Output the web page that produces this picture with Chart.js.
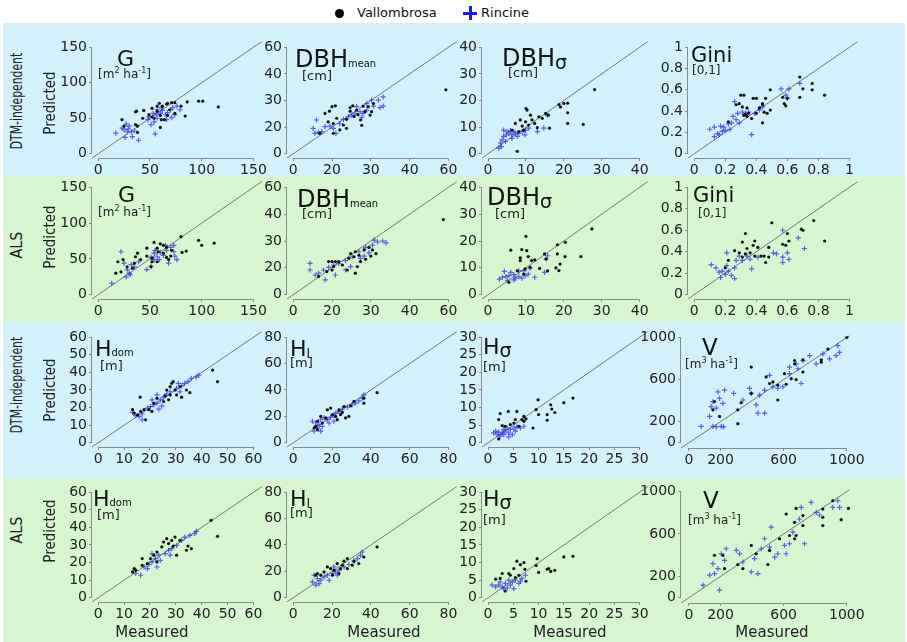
<!DOCTYPE html>
<html><head><meta charset="utf-8">
<script src="https://cdn.jsdelivr.net/npm/chart.js@4/dist/chart.umd.min.js"></script>
<style>
html,body{margin:0;padding:0;background:#fff;}
#root{position:relative;width:907px;height:642px;overflow:hidden;font-family:'DejaVu Sans',sans-serif;color:#111;}
.band{position:absolute;left:3px;width:902px;}
.blue{background:#d3f1fa}
.green{background:#d5f6cf}
canvas.pc{position:absolute;}
.t{position:absolute;white-space:nowrap;line-height:1;}
.rot{position:absolute;white-space:nowrap;line-height:1;}
.sm{font-family:'DejaVu Sans Condensed','DejaVu Sans',sans-serif;font-size:11px;}
.sl{font-size:13px;position:relative;top:2px;}
.sg{font-size:19px;position:relative;top:3px;}
.sp{font-size:8px;position:relative;top:-5px;}
.u{color:#222;}
</style></head><body><div id="root">
<div class="band blue" style="top:23px;height:153px"></div>
<div class="band green" style="top:176px;height:146px"></div>
<div class="band blue" style="top:322px;height:156px"></div>
<div class="band green" style="top:478px;height:164px"></div>
<div class="t" style="left:335px;top:9px;width:9px;height:9px;border-radius:50%;background:#000"></div>
<div class="t" style="left:357px;top:6px;font-size:13px;">Vallombrosa</div>
<div class="t" style="left:463px;top:11.5px;width:14px;height:3px;background:#1a1aff"></div>
<div class="t" style="left:468.5px;top:6px;width:3px;height:14px;background:#1a1aff"></div>
<div class="t" style="left:481px;top:6px;font-size:13px;">Rincine</div>
</div>
<script>
// ---------- tick values / labels ----------
const G_ticks = [0, 50, 100, 150];
const DBHmean_ticks = [0, 15, 30, 45, 60];
const DBHmean_tick_labels = ['0', '20', '30', '40', '60'];
const DBHsd_ticks = [0, 10, 20, 30, 40];
const Gini_ticks = [0, 0.2, 0.4, 0.6, 0.8, 1];
const Hdom_ticks = [0, 10, 20, 30, 40, 50, 60];
const Hl_ticks = [0, 20, 40, 60, 80];
const Hsd_ticks = [0, 5, 10, 15, 20, 25, 30];
const V_ticks = [0, 200, 600, 1000];

// ---------- data [measured, predicted] ----------
const G_dtm_vallombrosa = [[116,66],[97,74],[101,74],[84,53],[86,73],[71,72],[74,72],[80,67],[57,67],[62,67],[66,70],[67,71],[59,71],[52,64],[57,60],[60,54],[61,48],[60,37],[52,52],[54,50],[49,55],[44,61],[37,60],[36,59],[43,50],[38,39],[36,41],[38,30],[23,48],[25,39],[67,54],[74,57],[69,62],[64,48]];
const G_dtm_rincine = [[17,29],[23,36],[27,42],[30,39],[32,31],[35,32],[29,35],[33,24],[26,23],[39,19],[55,28],[28,31],[25,34],[49,52],[53,57],[56,55],[57,50],[60,57],[62,61],[65,55],[67,58],[70,62],[72,65],[76,67],[79,62],[74,55],[71,51],[66,48],[54,45],[51,41],[48,48],[57,62],[61,65]];
const G_als_vallombrosa = [[97,76],[100,69],[112,72],[80,81],[85,61],[81,59],[70,54],[71,62],[66,66],[63,69],[60,71],[57,65],[54,73],[58,60],[63,58],[66,52],[68,49],[57,46],[52,51],[47,54],[47,65],[52,46],[51,39],[41,49],[35,44],[33,37],[28,39],[24,49],[19,46],[38,58],[36,53],[17,30],[22,32]];
const G_als_rincine = [[13,16],[22,60],[25,44],[28,35],[30,30],[31,28],[27,25],[32,42],[35,39],[39,46],[47,35],[51,40],[54,58],[55,62],[57,53],[60,59],[63,55],[66,62],[70,66],[73,60],[74,54],[76,49],[68,44],[59,49],[54,49],[51,52],[73,69],[65,69]];

const DBHmean_dtm_vallombrosa = [[59,36],[22,26],[23,27],[22,24],[24.5,24.6],[25,22],[23.5,21],[26,19],[26.5,16],[27.7,23.7],[29,26.5],[30.3,23.7],[31,28.3],[29.7,21.8],[20.6,19.4],[19.4,16.2],[15.5,17],[16.8,20],[13.5,18],[10.3,11.5],[15.5,11.5],[18,13.4],[20.6,14.3],[27,26.8],[15,26.5],[16.3,27],[12.3,22.7],[14,24]];
const DBHmean_dtm_rincine = [[7.7,14.3],[8.4,11.5],[9.7,12],[11,12.5],[12.3,15.3],[14.2,15.6],[16.5,11.5],[15.5,14.3],[18,17],[19.4,19.4],[21.3,20.9],[22.6,21.8],[23.9,22.7],[25.8,23.7],[27,22.7],[28.4,24.6],[31,26.8],[32.9,30.2],[34.8,32],[30.3,30.2],[28.4,28.3],[26.5,20.5],[33.5,26],[34.8,26.8],[9,19],[24.5,26.5]];
const DBHmean_als_vallombrosa = [[58,42],[13.7,18.5],[15,18.5],[16.3,18.5],[17.6,18.5],[15.6,15.7],[19,16.6],[21.5,20.3],[22.2,23],[24,24],[23.5,21.2],[25.4,22],[26,18.5],[24.8,15.7],[24,12],[20.9,13.8],[27.4,25],[29.3,26.4],[30.6,25],[30,21.6],[28,19.8],[32,23],[15,13.8],[13,12.9],[9.8,10.2]];
const DBHmean_als_rincine = [[6.5,17.5],[6.5,13.8],[8.5,11],[9.8,12],[11.7,13.8],[13.7,15.3],[15.6,16.6],[17.6,17.5],[20.2,19],[22.8,21.2],[25.4,24],[27.4,21.6],[29.3,23.4],[30.6,27.7],[32.6,29.5],[34.6,30],[35.9,29],[31.3,30.5],[28,26.4],[22.2,15.7],[20.2,13.8],[12.4,8.3],[16.3,11],[26,20.3]];

const DBHsd_dtm_vallombrosa = [[28.1,24.1],[25.1,11],[21,19],[21,15.4],[21,11.4],[20,18.9],[19.1,17.6],[18.7,18.5],[15.9,14.5],[16.2,9.6],[15.2,15.2],[10,17],[10.3,16.4],[11.2,14.5],[9.9,12],[8.5,12.7],[9,10.4],[10.7,10.8],[12.3,11.4],[13,9.8],[7.2,11.4],[8.1,8.3],[6.3,8.9],[7.7,0.9],[9.4,8.9],[11.6,12.7],[13.4,13.9],[14.3,13.3]];
const DBHsd_dtm_rincine = [[3.3,4],[3.5,2.7],[3.7,5.2],[4.1,6.5],[4.8,7.1],[5.5,7.7],[6.3,7.1],[7.2,7.7],[4.1,8.9],[5,8.3],[5.9,8.7],[6.8,8.3],[8.1,7.7],[9,8.3],[9.9,8.9],[10.7,9.6],[9.7,7.1],[7.7,6.5],[6.3,5.8],[13,8.3],[14.7,9.6],[15.6,14.5],[2.8,2.1],[4.6,4.6]];
const DBHsd_als_vallombrosa = [[27.4,24.5],[20.4,19.5],[18.3,15.2],[20.3,14.2],[17.9,10],[18.7,9],[19,11.4],[24.5,14.2],[14.9,15.2],[15.3,13.3],[18.3,18.6],[10,21.7],[8.9,16.8],[10.2,16.4],[6,16.6],[8.5,13.7],[8.5,12.7],[10.6,14.2],[11.5,12.7],[12.3,13],[11.1,10.2],[9.8,9.6],[7.7,8.9],[9.4,7.7],[5.5,4.6],[13.6,9.8],[15.7,8.9]];
const DBHsd_als_rincine = [[3,5.8],[3.8,6.5],[4.7,6.7],[5.5,7.1],[6,8.3],[6.8,7.5],[7.2,6.2],[8.1,6.7],[8.9,6.2],[9.8,7.1],[10.6,7.7],[6.8,5.5],[5.1,5.2],[12.3,6.5],[14.9,8.3],[15.3,13.3],[15.7,14.5],[8.1,8.9],[9.4,8.9],[4.3,8.7],[11.1,9.9]];

const Gini_dtm_vallombrosa = [[0.84,0.55],[0.76,0.66],[0.76,0.60],[0.68,0.72],[0.68,0.53],[0.70,0.61],[0.57,0.53],[0.58,0.47],[0.59,0.45],[0.60,0.52],[0.49,0.60],[0.46,0.52],[0.44,0.47],[0.44,0.46],[0.45,0.39],[0.47,0.38],[0.49,0.41],[0.44,0.29],[0.38,0.52],[0.40,0.52],[0.34,0.43],[0.31,0.44],[0.30,0.55],[0.32,0.55],[0.27,0.46],[0.29,0.47],[0.32,0.36],[0.33,0.37],[0.34,0.35],[0.35,0.38],[0.37,0.33],[0.22,0.30],[0.40,0.38],[0.42,0.43]];
const Gini_dtm_rincine = [[0.10,0.23],[0.13,0.25],[0.17,0.26],[0.15,0.19],[0.13,0.16],[0.16,0.18],[0.18,0.21],[0.20,0.22],[0.23,0.23],[0.24,0.29],[0.25,0.35],[0.27,0.32],[0.29,0.29],[0.28,0.38],[0.26,0.49],[0.31,0.39],[0.33,0.38],[0.35,0.39],[0.37,0.18],[0.39,0.38],[0.42,0.41],[0.44,0.44],[0.56,0.61],[0.59,0.55],[0.61,0.61],[0.68,0.66],[0.60,0.52],[0.19,0.25],[0.22,0.28]];
const Gini_als_vallombrosa = [[0.84,0.50],[0.77,0.69],[0.69,0.61],[0.70,0.60],[0.50,0.67],[0.57,0.47],[0.59,0.46],[0.60,0.57],[0.61,0.50],[0.48,0.44],[0.45,0.36],[0.46,0.30],[0.39,0.50],[0.38,0.46],[0.41,0.44],[0.33,0.57],[0.31,0.49],[0.34,0.43],[0.36,0.39],[0.33,0.38],[0.29,0.39],[0.31,0.35],[0.39,0.36],[0.43,0.36],[0.22,0.32],[0.20,0.25],[0.26,0.41],[0.48,0.35]];
const Gini_als_rincine = [[0.11,0.28],[0.14,0.25],[0.16,0.21],[0.17,0.16],[0.18,0.22],[0.20,0.19],[0.21,0.27],[0.22,0.22],[0.24,0.18],[0.26,0.15],[0.26,0.25],[0.27,0.32],[0.21,0.39],[0.29,0.36],[0.31,0.32],[0.34,0.36],[0.36,0.33],[0.37,0.24],[0.41,0.35],[0.51,0.39],[0.53,0.38],[0.57,0.60],[0.57,0.30],[0.60,0.39],[0.67,0.53],[0.71,0.43],[0.57,0.35],[0.61,0.33]];

const Hdom_dtm_vallombrosa = [[44.2,41.3],[46.1,34.7],[34.1,30],[35.4,28.5],[31.6,31.9],[29,34.7],[28.4,33.8],[27.8,31.9],[26.5,30],[29.7,30],[30.3,27.2],[27.8,27.2],[25.9,26.6],[27.2,24.4],[32.2,25.9],[25.3,23.4],[22.7,25.3],[21.5,22.5],[19.6,18.8],[17.7,18.8],[16.4,17.8],[15.2,15.9],[16.2,25.9],[13.3,18.8],[18.3,13.1],[13.9,16.9],[20.8,17.8]];
const Hdom_dtm_rincine = [[13.3,17.3],[14.5,15.4],[15.8,15],[17,16.5],[19,19.7],[20.2,20.6],[21.5,21.6],[22.7,22.5],[24,24.4],[25.3,25.9],[26.5,27.8],[27.8,29],[30.3,31],[32.2,32.3],[33.4,33.8],[34.7,34.7],[36,36.6],[37.9,37.5],[38.9,38.4],[23.4,19.1],[24.6,21],[31,33.8],[17,13.1],[22.7,27.2],[20.8,24.4],[31.6,29]];
const Hdom_als_vallombrosa = [[43.6,44],[46.1,34.9],[36,27.9],[34.7,29.4],[34.1,27],[31.6,32.6],[29.7,34.5],[28.4,32.6],[27.2,30.8],[26.5,33.6],[25.3,31.7],[29,29.4],[30.3,24.2],[24.6,28.9],[22.7,26],[21.5,24.2],[20.2,22.3],[19,19.4],[17,18.5],[14.5,15.7],[13.9,16.6],[13.3,14.7],[22.7,20.4],[17,22.3]];
const Hdom_als_rincine = [[14.5,13.8],[16.4,12.8],[17.7,17.5],[19.6,18.9],[20.8,20.4],[22.1,22.3],[23.4,24.2],[24,21.3],[25.9,25.1],[27.2,27],[28.4,27.9],[30.3,29.8],[32.2,32.6],[33.4,34.5],[35.4,35.5],[37.3,36.4],[37.9,37.7],[22.7,17.5],[20.8,25.1],[19,16.6],[27.8,24.2]];

const Hl_dtm_vallombrosa = [[43.2,38],[36.4,30],[36.4,33.8],[31.3,31.3],[29.6,28],[26.2,27.5],[25.3,23],[24.4,21.3],[23.6,25],[21.9,20],[20.2,21.3],[19.3,26.3],[17.6,25],[16.8,18.8],[14.2,20],[12.5,16.3],[11.6,12.5],[10.8,11.3],[12.5,10],[27,18.8],[28.7,20],[22.7,17.5],[15,15]];
const Hl_dtm_rincine = [[9.9,16.3],[11.6,15],[13.3,13.8],[15,12.5],[14.2,17.5],[15.9,18.8],[17.6,17.5],[19.3,19.5],[21,20.5],[21.9,22.5],[23.6,23.8],[25.3,25.5],[27.9,27],[30.4,28.8],[32.1,30],[33.8,31.8],[35.6,33.8],[36.4,36.3],[12.5,11.3],[10.8,8.8],[18.5,15],[21,16.3],[14.2,8.8]];
const Hl_als_vallombrosa = [[43.2,38.5],[36.4,30.9],[33.8,25.9],[31.3,27.7],[27.9,29.7],[26.2,27.7],[25.3,24.7],[24.4,22.1],[22.7,25.9],[21,20.9],[19.3,22.1],[17.6,23.4],[15.9,19.6],[14.2,17.1],[12.5,18.4],[11.6,17.1],[27.9,22.1],[30.4,24.7],[23.6,18.4],[20.2,17.1]];
const Hl_als_rincine = [[9.9,12.1],[11.6,9.6],[12.5,14.6],[14.2,13.3],[15.9,15.8],[17.6,17.1],[20.2,18.4],[21.9,19.6],[23.6,20.9],[26.2,23.4],[28.7,25.2],[31.3,27.7],[33.1,29.7],[34.7,32.2],[35.6,34.7],[18.5,13.3],[22.7,17.1],[13.3,10.8],[10.8,17.1],[21,23.4]];

const Hsd_dtm_vallombrosa = [[16.8,12.7],[15,11.4],[12.4,10.8],[12.6,9.6],[13.2,8.6],[11.7,8],[11.7,6.4],[9.9,12.2],[9.5,9.4],[10,8],[7.1,7.5],[7.5,6.8],[6.7,6.6],[8.9,4.2],[5.7,8.9],[4,8.9],[2.4,8.3],[2.1,6.6],[3.4,4.7],[2.8,4.9],[5.1,5.6],[5.4,6.6],[4.4,5.2],[2.1,1.1],[6.1,4.7],[7.1,6.1]];
const Hsd_dtm_rincine = [[1.1,2.8],[1.8,2.3],[2.1,3],[2.8,2.8],[3.1,2.3],[3.4,3.3],[4.1,2.8],[4.4,3.8],[4.8,2.3],[3.8,4.2],[5.1,4.2],[5.7,4.5],[6.4,4.2],[3.1,3.8],[2.4,1.9],[4.1,1.7],[5.4,3.3],[1.5,3.3],[7.1,4.7]];
const Hsd_als_vallombrosa = [[16.8,11.8],[15,11.6],[12,8.3],[12.4,7.5],[11.7,8.1],[13.2,7.8],[10,7.2],[9.5,9.2],[9.7,11.1],[7.1,10],[5.7,10.4],[6.4,9.4],[7.5,4.7],[7.3,8.1],[5.1,8.3],[4.1,6.9],[2.8,6.9],[2.4,5.5],[4.4,6.4],[5.4,5.7],[3.4,1.9],[6.1,6.4],[1.5,5.3]];
const Hsd_als_rincine = [[0.8,3.6],[1.5,3.1],[2.1,3.6],[2.8,3.1],[3.4,4.1],[3.8,2.8],[4.4,3.6],[4.8,4.5],[5.4,5],[6.1,4.1],[6.4,4.7],[4.1,5],[3.1,2.6],[6.7,5.5],[7.4,6.4],[2.4,4.5],[5.1,2.6]];

const V_dtm_vallombrosa = [[1000,1000],[880,890],[838,788],[838,766],[722,788],[669,781],[669,750],[722,672],[679,600],[648,609],[605,656],[616,556],[563,547],[563,406],[489,625],[511,563],[395,719],[395,469],[331,381],[310,313],[310,181],[194,250],[152,313],[162,391],[532,578]];
const V_dtm_rincine = [[78,156],[152,156],[173,150],[205,156],[219,150],[131,250],[141,344],[152,391],[173,328],[194,422],[184,484],[215,375],[226,500],[283,469],[342,406],[384,516],[395,469],[426,359],[437,281],[479,281],[448,453],[479,500],[511,641],[532,531],[563,516],[595,531],[637,656],[679,750],[690,703],[711,563],[764,828],[806,750],[848,844],[932,828],[954,859],[943,922],[722,781],[890,797],[637,719]];
const V_als_vallombrosa = [[1010,841],[964,735],[911,913],[848,835],[848,757],[848,679],[722,773],[679,841],[616,788],[669,710],[637,586],[679,586],[722,679],[574,555],[511,445],[500,312],[395,492],[342,274],[310,312],[226,274],[215,399],[162,399],[426,414],[669,555]];
const V_als_rincine = [[89,118],[131,212],[162,227],[152,321],[184,274],[194,72],[205,414],[236,461],[226,352],[300,445],[321,414],[342,336],[395,243],[437,227],[416,368],[458,461],[479,555],[521,664],[511,477],[543,383],[563,414],[605,492],[637,508],[616,414],[658,617],[700,741],[711,850],[732,508],[774,897],[806,804],[827,779],[911,850],[943,913],[954,850]];

// ---------- panel layout (pixels) ----------
const STD = {lo:0.04, hi:1.055};
const VR = {lo:0.05, hi:1.02};
const panels = [
 {L:92, T:41, W:170,H:117, M:150, ticks:G_ticks, v:G_dtm_vallombrosa, r:G_dtm_rincine, rg:STD},
 {L:287,T:41, W:170,H:117, M:60, ticks:DBHmean_ticks, labels:DBHmean_tick_labels, v:DBHmean_dtm_vallombrosa, r:DBHmean_dtm_rincine, rg:STD},
 {L:482,T:41, W:166,H:117, M:40, ticks:DBHsd_ticks, v:DBHsd_dtm_vallombrosa, r:DBHsd_dtm_rincine, rg:STD},
 {L:688,T:41, W:170,H:117, M:1, ticks:Gini_ticks, v:Gini_dtm_vallombrosa, r:Gini_dtm_rincine, rg:STD},
 {L:92, T:181,W:170,H:118, M:150, ticks:G_ticks, v:G_als_vallombrosa, r:G_als_rincine, rg:STD},
 {L:287,T:181,W:170,H:118, M:60, ticks:DBHmean_ticks, labels:DBHmean_tick_labels, v:DBHmean_als_vallombrosa, r:DBHmean_als_rincine, rg:STD},
 {L:482,T:181,W:166,H:118, M:40, ticks:DBHsd_ticks, v:DBHsd_als_vallombrosa, r:DBHsd_als_rincine, rg:STD},
 {L:688,T:181,W:170,H:118, M:1, ticks:Gini_ticks, v:Gini_als_vallombrosa, r:Gini_als_rincine, rg:STD},
 {L:92, T:331,W:170,H:116, M:60, ticks:Hdom_ticks, v:Hdom_dtm_vallombrosa, r:Hdom_dtm_rincine, rg:STD},
 {L:287,T:331,W:170,H:116, M:80, ticks:Hl_ticks, v:Hl_dtm_vallombrosa, r:Hl_dtm_rincine, rg:STD},
 {L:482,T:331,W:166,H:116, M:30, ticks:Hsd_ticks, v:Hsd_dtm_vallombrosa, r:Hsd_dtm_rincine, rg:STD},
 {L:681,T:335,W:169,H:113, M:1000, ticks:V_ticks, v:V_dtm_vallombrosa, r:V_dtm_rincine, rg:VR},
 {L:92, T:486,W:170,H:116, M:60, ticks:Hdom_ticks, v:Hdom_als_vallombrosa, r:Hdom_als_rincine, rg:STD},
 {L:287,T:486,W:170,H:116, M:80, ticks:Hl_ticks, v:Hl_als_vallombrosa, r:Hl_als_rincine, rg:STD},
 {L:482,T:486,W:166,H:116, M:30, ticks:Hsd_ticks, v:Hsd_als_vallombrosa, r:Hsd_als_rincine, rg:STD},
 {L:681,T:489,W:169,H:114, M:1000, ticks:V_ticks, v:V_als_vallombrosa, r:V_als_rincine, rg:VR}
];

// panel titles: [x, baseline, size, html, ux, ubaseline, usize, uhtml]
const UNIT_G = '[m<span class="sp">2</span> ha<span class="sp">-1</span>]';
const UNIT_V = '[m<span class="sp">3</span> ha<span class="sp">-1</span>]';
const titles = [
 [117,67,22,'G', 98,78,12,UNIT_G],
 [295,67,24,'DBH<span class="sm">mean</span>', 302,80,13,'[cm]'],
 [502,66,24,'DBH<span class="sg">σ</span>', 508,77,13,'[cm]'],
 [691,63,21,'Gini', 692,74,12,'[0,1]'],
 [118,203,22,'G', 98,216,12,UNIT_G],
 [297,207,24,'DBH<span class="sm">mean</span>', 302,218,13,'[cm]'],
 [487,205,24,'DBH<span class="sg">σ</span>', 495,218,13,'[cm]'],
 [693,203,21,'Gini', 698,217,12,'[0,1]'],
 [95,357,22,'H<span class="sm">dom</span>', 100,370,13,'[m]'],
 [290,357,22,'H<span class="sl">l</span>', 290,367,13,'[m]'],
 [483,355,22,'H<span class="sg">σ</span>', 483,371,13,'[m]'],
 [702,355,23,'V', 685,368,12,UNIT_V],
 [93,507,22,'H<span class="sm">dom</span>', 97,519,13,'[m]'],
 [290,507,22,'H<span class="sl">l</span>', 290,517,13,'[m]'],
 [483,507,22,'H<span class="sg">σ</span>', 483,524,13,'[m]'],
 [703,508,23,'V', 688,524,12,UNIT_V]
];

const root = document.getElementById('root');
Chart.defaults.font.family = "'DejaVu Sans', sans-serif";
Chart.defaults.font.size = 14;
Chart.defaults.color = '#222';

const trimAxes = {
  id: 'trimAxes',
  beforeDatasetsDraw(chart) {
    const {ctx, chartArea: a, scales: {x, y}} = chart;
    const tx = x.ticks, ty = y.ticks;
    ctx.save();
    ctx.strokeStyle = '#8a8a8a';
    ctx.lineWidth = 1;
    ctx.beginPath();
    const lx = Math.round(a.left) - 0.5;
    ctx.moveTo(lx, y.getPixelForValue(ty[0].value));
    ctx.lineTo(lx, y.getPixelForValue(ty[ty.length - 1].value));
    const by = Math.round(a.bottom) + 0.5;
    ctx.moveTo(x.getPixelForValue(tx[0].value), by);
    ctx.lineTo(x.getPixelForValue(tx[tx.length - 1].value), by);
    ctx.stroke();
    ctx.restore();
  }
};

const YW = 50, PT = 10, PR = 24, XH = 22;
function fmt(v) { return String(Math.round(v * 1000) / 1000); }

panels.forEach(p => {
  const cv = document.createElement('canvas');
  cv.className = 'pc';
  const cw = YW + p.W + PR, ch = PT + p.H + XH;
  cv.width = cw; cv.height = ch;
  cv.style.left = (p.L - YW) + 'px';
  cv.style.top = (p.T - PT) + 'px';
  cv.style.width = cw + 'px';
  cv.style.height = ch + 'px';
  root.appendChild(cv);
  const mn = -p.rg.lo * p.M, mx = p.rg.hi * p.M;
  const tickCfg = (isX) => ({
    type: 'linear', min: mn, max: mx,
    afterBuildTicks: s => { s.ticks = p.ticks.map(v => ({value: v})); },
    afterFit: s => { if (isX) s.height = XH; else s.width = YW; },
    ticks: {
      autoSkip: false, maxRotation: 0, padding: isX ? 1 : 2, color: '#222', font: {size: 14},
      callback: (v, i) => p.labels ? p.labels[i] : fmt(v)
    },
    grid: {drawOnChartArea: false, drawTicks: true, tickLength: 3, color: '#8a8a8a'},
    border: {display: false}
  });
  new Chart(cv, {
    type: 'scatter',
    data: {datasets: [
      {label: '1:1', data: [{x: mn, y: mn}, {x: mx, y: mx}], showLine: true, borderColor: '#777777', borderWidth: 1, pointRadius: 0, order: 3},
      {label: 'Rincine', data: p.r.map(([x, y]) => ({x, y})), pointStyle: 'cross', pointRadius: 2.6, borderColor: 'rgba(40,40,235,0.72)', borderWidth: 1.2, order: 2},
      {label: 'Vallombrosa', data: p.v.map(([x, y]) => ({x, y})), pointStyle: 'circle', pointRadius: 1.6, backgroundColor: '#111', borderColor: '#111', borderWidth: 0, order: 1}
    ]},
    options: {
      responsive: false, animation: false, devicePixelRatio: 1,
      layout: {autoPadding: false, padding: {top: PT, right: PR, bottom: 0, left: 0}},
      plugins: {legend: {display: false}, tooltip: {enabled: false}},
      scales: {x: tickCfg(true), y: tickCfg(false)}
    },
    plugins: [trimAxes]
  });
});

titles.forEach(t => {
  const d = document.createElement('div');
  d.className = 't';
  d.style.left = t[0] + 'px';
  d.style.top = (t[1] - 0.846 * t[2]) + 'px';
  d.style.fontSize = t[2] + 'px';
  d.innerHTML = t[3];
  root.appendChild(d);
  const u = document.createElement('div');
  u.className = 't u';
  u.style.left = t[4] + 'px';
  u.style.top = (t[5] - 0.846 * t[6]) + 'px';
  u.style.fontSize = t[6] + 'px';
  u.innerHTML = t[7];
  root.appendChild(u);
});

// row labels, axis titles: [text, cx, cy, font size, horizontal squeeze]
const COND = "'DejaVu Sans Condensed','DejaVu Sans',sans-serif";
const rotLabels = [
  ['DTM-independent', 17, 101, 15, 0.8],
  ['ALS', 17, 245, 16, 1],
  ['DTM-independent', 17, 385, 15, 0.8],
  ['ALS', 17, 530, 16, 1],
  ['Predicted', 50, 103, 15, 1],
  ['Predicted', 50, 237, 15, 1],
  ['Predicted', 50, 390, 15, 1],
  ['Predicted', 50, 531, 15, 1]
];
rotLabels.forEach(r => {
  const d = document.createElement('div');
  d.className = 'rot';
  d.textContent = r[0];
  d.style.left = r[1] + 'px';
  d.style.top = r[2] + 'px';
  d.style.fontSize = r[3] + 'px';
  d.style.fontFamily = COND;
  d.style.color = '#222';
  d.style.transform = 'translate(-50%,-50%) rotate(-90deg) scaleX(' + r[4] + ')';
  root.appendChild(d);
});
[152, 384, 570, 772].forEach(cx => {
  const d = document.createElement('div');
  d.className = 't';
  d.textContent = 'Measured';
  d.style.fontSize = '15px';
  d.style.left = cx + 'px';
  d.style.top = '625px';
  d.style.transform = 'translateX(-50%)';
  d.style.color = '#222';
  root.appendChild(d);
});
</script>
</body></html>
